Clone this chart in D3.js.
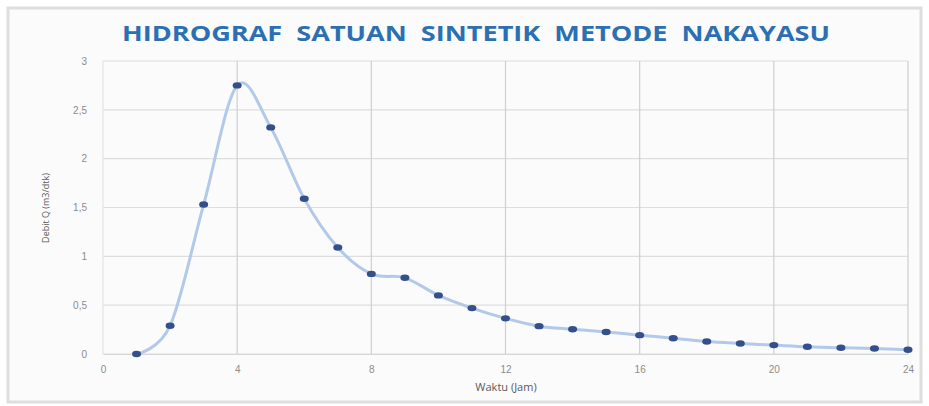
<!DOCTYPE html>
<html>
<head>
<meta charset="utf-8">
<script src="https://cdn.jsdelivr.net/npm/d3@7"></script>
<style>
  body { margin: 0; background: #fff; }
  svg { display: block; font-family: "Open Sans", "DejaVu Sans", sans-serif; }
</style>
</head>
<body>
<div id="chart"></div>
<script>
// jam ke-
const waktu = [1, 2, 3, 4, 5, 6, 7, 8, 9, 10, 11, 12, 13, 14, 15, 16, 17, 18, 19, 20, 21, 22, 23, 24];
// debit Q (m3/dtk)
const debit = [0, 0.29, 1.53, 2.75, 2.32, 1.59, 1.09, 0.82, 0.78, 0.60, 0.47, 0.365, 0.285, 0.253,
  0.226, 0.193, 0.162, 0.128, 0.108, 0.091, 0.074, 0.064, 0.057, 0.044];
const xTicks = [0, 4, 8, 12, 16, 20, 24];
const yTicks = [0, 0.5, 1, 1.5, 2, 2.5, 3];

const judul = "HIDROGRAF  SATUAN  SINTETIK  METODE  NAKAYASU";

const width = 929, height = 406;
const margin = {top: 61, right: 21, bottom: 52, left: 103};

const svg = d3.select("#chart").append("svg")
  .attr("width", width)
  .attr("height", height);

// frame
svg.append("rect")
  .attr("x", 8).attr("y", 8)
  .attr("width", width - 16).attr("height", height - 12)
  .attr("fill", "#fbfbfb")
  .attr("stroke", "#dedede")
  .attr("stroke-width", 3);

let x = d3.scaleLinear().domain([0, 24]).range([margin.left, width - margin.right]);
let y = d3.scaleLinear().domain([0, 3]).range([height - margin.bottom, margin.top]);

// horizontal grid
svg.append("g")
  .selectAll("line")
  .data(yTicks)
  .join("line")
  .attr("x1", x(0)).attr("x2", x(24))
  .attr("y1", d => y(d)).attr("y2", d => y(d))
  .attr("stroke", "#dedede")
  .attr("stroke-width", 1.2);

// vertical grid
svg.append("g")
  .selectAll("line")
  .data(xTicks)
  .join("line")
  .attr("x1", d => x(d)).attr("x2", d => x(d))
  .attr("y1", y(3)).attr("y2", y(0))
  .attr("stroke", d => d == 0 ? "#e4e4e4" : "#cfcfcf")
  .attr("stroke-width", 1.2);

let xAxis = g => g
  .attr("transform", `translate(0,${y(0)})`)
  .call(d3.axisBottom(x).tickValues(xTicks).tickSize(0).tickPadding(12))
  .call(g => g.select(".domain").attr("stroke", "#d6d6d6"))
  .call(g => g.selectAll("text").attr("fill", "#8c8c8c").attr("font-size", 10));

let yAxis = g => g
  .attr("transform", `translate(${x(0)},0)`)
  .call(d3.axisLeft(y).tickValues(yTicks).tickSize(0).tickPadding(16)
    .tickFormat(d => String(d).replace(".", ",")))
  .call(g => g.select(".domain").remove())
  .call(g => g.selectAll("text").attr("fill", "#8c8c8c").attr("font-size", 10));

svg.append("g").call(xAxis);
svg.append("g").call(yAxis);

const pts = waktu.map((w, i) => [w, debit[i]]);

let line = d3.line()
  .x(d => x(d[0]))
  .y(d => y(d[1]))
  .curve(d3.curveCatmullRom.alpha(0));

svg.append("path")
  .datum(pts)
  .attr("fill", "none")
  .attr("stroke", "#b3c9ea")
  .attr("stroke-width", 3)
  .attr("d", line);

svg.append("g")
  .attr("fill", "#34508a")
  .selectAll("ellipse")
  .data(pts)
  .join("ellipse")
  .attr("cx", d => x(d[0]))
  .attr("cy", d => y(d[1]))
  .attr("rx", 4.5)
  .attr("ry", 3.2);

// title
svg.append("text")
  .attr("x", 476)
  .attr("y", 41)
  .attr("text-anchor", "middle")
  .attr("font-size", 21)
  .attr("font-weight", "bold")
  .attr("fill", "#2c6fb2")
  .attr("textLength", 708)
  .attr("lengthAdjust", "spacingAndGlyphs")
  .style("white-space", "pre")
  .text(judul);

svg.append("text")
  .attr("x", 506)
  .attr("y", 391)
  .attr("text-anchor", "middle")
  .attr("font-size", 11)
  .attr("fill", "#595959")
  .text("Waktu (Jam)");

svg.append("text")
  .attr("transform", "rotate(-90)")
  .attr("x", -208)
  .attr("y", 49)
  .attr("text-anchor", "middle")
  .attr("font-size", 9)
  .attr("fill", "#595959")
  .text("Debit Q (m3/dtk)");
</script>
</body>
</html>
